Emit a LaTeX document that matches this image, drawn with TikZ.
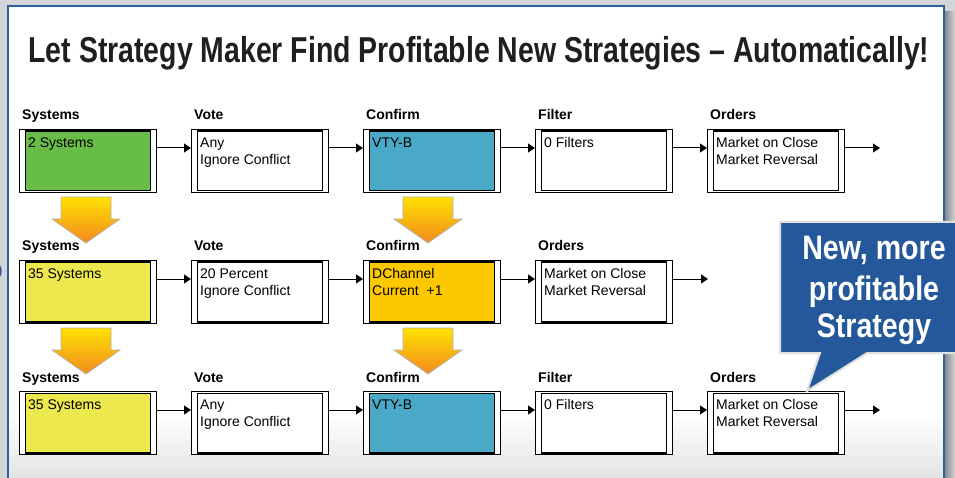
\documentclass[tikz,border=0pt]{standalone}
\usepackage{fontspec}
\setmainfont{Liberation Sans}
\newfontfamily\titlefont[FakeStretch=0.79]{Liberation Sans}
\newfontfamily\calloutfont[FakeStretch=0.84]{Liberation Sans}
\usetikzlibrary{positioning,arrows.meta,shadings}

\definecolor{pagegray}{HTML}{D3D5D8}
\definecolor{shadowgray}{HTML}{7E838B}
\definecolor{panelblue}{HTML}{2D5E9E}
\definecolor{sysgreen}{HTML}{67BD47}
\definecolor{vtyblue}{HTML}{4AA9C7}
\definecolor{sysyellow}{HTML}{EEE84F}
\definecolor{chgold}{HTML}{FEC800}
\definecolor{calloutblue}{HTML}{24589A}
\definecolor{arrowtop}{HTML}{FFE100}
\definecolor{arrowtip}{HTML}{F28A1E}

\tikzset{
	stage/.style={draw=black,line width=1pt,fill=white,inner sep=0pt,anchor=north west,
		minimum width=137pt,minimum height=63pt,
		path picture={\filldraw[fill=#1,draw=black,line width=1.2pt]
			([xshift=6pt,yshift=-1.6pt]path picture bounding box.north west) rectangle
			([xshift=-6pt,yshift=1.6pt]path picture bounding box.south east);}},
	stage/.default=white,
	entry/.style={anchor=north west,align=left,inner sep=0pt,font=\fontsize{14}{17}\selectfont},
	head/.style={anchor=base west,inner sep=0pt,font=\bfseries\fontsize{14}{16}\selectfont},
	flow/.style={-{Triangle[length=7pt,width=9pt]},line width=1pt},
	calltext/.style={anchor=base,inner sep=0pt,text=white,font=\calloutfont\bfseries\fontsize{34}{39}\selectfont},
	pics/dropdown/.style={code={
		\shade[top color=arrowtop,bottom color=arrowtip,draw=gray!60,line width=0.8pt]
			(-25,0) -- (25,0) -- (25,22) -- (34,22) -- (0,46) -- (-34,22) -- (-25,22) -- cycle;}}
}

\begin{document}
\begin{tikzpicture}[x=1pt,y=-1pt]
	\useasboundingbox (0,0) rectangle (955,478);
	\clip (0,0) rectangle (955,478);
	% page, shadow and white panel
	\fill[pagegray] (0,0) rectangle (955,478);
	\shade[left color=shadowgray,right color=pagegray] (944,12) rectangle (955,478);
	\fill[white] (8,6) rectangle (944,490);
	\shade[top color=white,bottom color=black!11] (8,415) rectangle (944,478);
	\draw[panelblue,line width=1.5pt] (8,490) -- (8,6) -- (944,6) -- (944,490);
	\node[text=panelblue,inner sep=0pt,font=\fontsize{20}{20}\selectfont] (edge0) at (-3,272) {0};

	\node[anchor=base,inner sep=0pt,text=black!88,font=\titlefont\bfseries\fontsize{36}{40}\selectfont]
		(title) at (479,63) {Let Strategy Maker Find Profitable New Strategies – Automatically!};

	% first row
	\node[stage=sysgreen] (s11) at (19,129) {};
	\node[stage, right=34pt of s11] (s12) {};
	\node[stage=vtyblue, right=34pt of s12] (s13) {};
	\node[stage, right=34pt of s13] (s14) {};
	\node[stage, right=34pt of s14] (s15) {};
	\coordinate (end1) at ([shift={(35,19)}]s15.north east);

	% second row
	\node[stage=sysyellow] (s21) at (19,260) {};
	\node[stage, right=34pt of s21] (s22) {};
	\node[stage=chgold, right=34pt of s22] (s23) {};
	\node[stage, right=34pt of s23] (s24) {};
	\coordinate (end2) at ([shift={(35,19)}]s24.north east);

	% third row
	\node[stage=sysyellow] (s31) at (19,391) {};
	\node[stage, right=34pt of s31] (s32) {};
	\node[stage=vtyblue, right=34pt of s32] (s33) {};
	\node[stage, right=34pt of s33] (s34) {};
	\node[stage, right=34pt of s34] (s35) {};
	\coordinate (end3) at ([shift={(35,19)}]s35.north east);

	% flow arrows
	\foreach \a/\b in {s11/s12,s12/s13,s13/s14,s14/s15,s21/s22,s22/s23,s23/s24,
			s31/s32,s32/s33,s33/s34,s34/s35}
		\draw[flow] ([yshift=-19pt]\a.north east) -- ([yshift=-19pt]\b.north west);
	\draw[flow] ([yshift=-19pt]s15.north east) -- (end1);
	\draw[flow] ([yshift=-19pt]s24.north east) -- (end2);
	\draw[flow] ([yshift=-19pt]s35.north east) -- (end3);

	% yellow arrows between rows
	\pic at ([shift={(-2,4)}]s11.south) {dropdown};
	\pic at ([shift={(-4,4)}]s13.south) {dropdown};
	\pic at ([shift={(-2,4)}]s21.south) {dropdown};
	\pic at ([shift={(-4,4)}]s23.south) {dropdown};

	% headers
	\node[head] (h11) at ([shift={(3,-9)}]s11.north west) {Systems};
	\node[head] (h12) at ([shift={(3,-9)}]s12.north west) {Vote};
	\node[head] (h13) at ([shift={(3,-9)}]s13.north west) {Confirm};
	\node[head] (h14) at ([shift={(3,-9)}]s14.north west) {Filter};
	\node[head] (h15) at ([shift={(3,-9)}]s15.north west) {Orders};
	\node[head] (h21) at ([shift={(3,-9)}]s21.north west) {Systems};
	\node[head] (h22) at ([shift={(3,-9)}]s22.north west) {Vote};
	\node[head] (h23) at ([shift={(3,-9)}]s23.north west) {Confirm};
	\node[head] (h24) at ([shift={(3,-9)}]s24.north west) {Orders};
	\node[head] (h31) at ([shift={(3,-9)}]s31.north west) {Systems};
	\node[head] (h32) at ([shift={(3,-9)}]s32.north west) {Vote};
	\node[head] (h33) at ([shift={(3,-9)}]s33.north west) {Confirm};
	\node[head] (h34) at ([shift={(3,-9)}]s34.north west) {Filter};
	\node[head] (h35) at ([shift={(3,-9)}]s35.north west) {Orders};

	% box contents
	\node[entry] (e11) at ([shift={(9,8.5)}]s11.north west) {2 Systems};
	\node[entry] (e12) at ([shift={(9,8.5)}]s12.north west) {Any\\Ignore Conflict};
	\node[entry] (e13) at ([shift={(9,8.5)}]s13.north west) {VTY-B};
	\node[entry] (e14) at ([shift={(9,8.5)}]s14.north west) {0 Filters};
	\node[entry] (e15) at ([shift={(9,8.5)}]s15.north west) {Market on Close\\Market Reversal};
	\node[entry] (e21) at ([shift={(9,8.5)}]s21.north west) {35 Systems};
	\node[entry] (e22) at ([shift={(9,8.5)}]s22.north west) {20 Percent\\Ignore Conflict};
	\node[entry] (e23) at ([shift={(9,8.5)}]s23.north west) {DChannel\\Current\ \ +1};
	\node[entry] (e24) at ([shift={(9,8.5)}]s24.north west) {Market on Close\\Market Reversal};
	\node[entry] (e31) at ([shift={(9,8.5)}]s31.north west) {35 Systems};
	\node[entry] (e32) at ([shift={(9,8.5)}]s32.north west) {Any\\Ignore Conflict};
	\node[entry] (e33) at ([shift={(9,8.5)}]s33.north west) {VTY-B};
	\node[entry] (e34) at ([shift={(9,8.5)}]s34.north west) {0 Filters};
	\node[entry] (e35) at ([shift={(9,8.5)}]s35.north west) {Market on Close\\Market Reversal};

	% callout
	\coordinate (tip) at ([xshift=100pt]s35.north west);
	\filldraw[fill=calloutblue,draw=black!12,line width=2pt,line join=miter]
		(780,222) -- (968,222) -- (968,353) -- (867,353) -- (tip) -- (820,353) -- (780,353) -- cycle;
	\node[calltext] (c1) at (874,260) {New, more};
	\node[calltext] (c2) at (874,300) {profitable};
	\node[calltext] (c3) at (874,337) {Strategy};
\end{tikzpicture}
\end{document}
